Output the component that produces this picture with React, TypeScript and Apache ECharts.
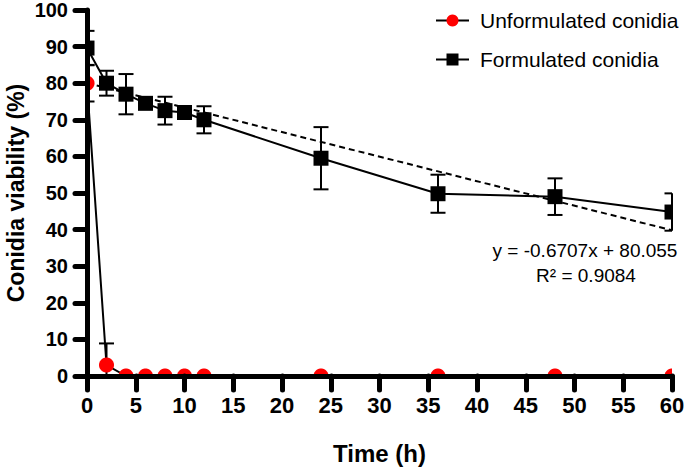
import React, { useEffect, useRef } from "react";
import * as echarts from "echarts";

// time points (h)
const hours = [0, 2, 4, 6, 8, 10, 12, 24, 36, 48, 60];

// viability (%) and error bars
const unformulated = [80, 3, 0, 0, 0, 0, 0, 0, 0, 0, 0];
const unformulatedErr = [5, 5.9, 0, 0, 0, 0, 0, 0, 0, 0, 0];
const formulated = [89.6, 80, 77, 74.5, 72.5, 72, 70, 59.5, 49.8, 49, 44.8];
const formulatedErr = [4.7, 3.4, 5.5, 1.2, 3.8, 1, 3.7, 8.5, 5.2, 5, 5.1];

// fitted trend line end points (y = -0.6707x + 80.055)
const trendX = [0, 60];
const trendY = [80.055, 39.813];

const FONT = "'Liberation Sans', Arial, sans-serif";

const pairs = (ys: number[]) => hours.map((h, i) => [h, ys[i]]);
const triples = (ys: number[], es: number[]) => hours.map((h, i) => [h, ys[i], es[i]]);

// clip a point list to the plot rectangle (good enough for convex marks)
const clampPts = (pts: number[][], r: any) =>
  pts.map(([x, y]) => [
    Math.min(Math.max(x, r.x), r.x + r.width),
    Math.min(Math.max(y, r.y), r.y + r.height),
  ]);

const markerSeries = (name: string, data: number[][], shape: "rect" | "circle", color: string) => ({
  name,
  type: "custom",
  z: 4,
  data,
  encode: { x: 0, y: 1 },
  renderItem: (params: any, api: any) => {
    const box = params.coordSys;
    const x = api.value(0);
    const y = api.value(1);
    const e = api.value(2);
    const c = api.coord([x, y]);
    const children: any[] = [];
    const st = { stroke: "#000", lineWidth: 2 };
    const hline = (yy: number) => {
      const x1 = Math.max(c[0] - 7.5, box.x);
      const x2 = Math.min(c[0] + 7.5, box.x + box.width);
      return { type: "line", shape: { x1, y1: yy, x2, y2: yy }, style: st };
    };
    if (e > 0) {
      const top = api.coord([x, y + e])[1];
      const bot = Math.min(api.coord([x, y - e])[1], box.y + box.height);
      children.push({ type: "line", shape: { x1: c[0], y1: top, x2: c[0], y2: bot }, style: st });
      children.push(hline(top));
      if (bot < box.y + box.height) children.push(hline(bot));
    }
    let pts: number[][];
    if (shape === "rect") {
      pts = [
        [c[0] - 7.5, c[1] - 7.5],
        [c[0] + 7.5, c[1] - 7.5],
        [c[0] + 7.5, c[1] + 7.5],
        [c[0] - 7.5, c[1] + 7.5],
      ];
    } else {
      pts = [];
      for (let k = 0; k < 48; k++) {
        const a = (k / 48) * Math.PI * 2;
        pts.push([c[0] + 7.5 * Math.cos(a), c[1] + 7.5 * Math.sin(a)]);
      }
    }
    children.push({ type: "polygon", shape: { points: clampPts(pts, box) }, style: { fill: color } });
    return { type: "group", children };
  },
});

const axisCommon = {
  axisLine: { show: true, lineStyle: { color: "#000", width: 5, cap: "round" } },
  axisTick: { show: true, lineStyle: { color: "#000", width: 5, cap: "round" } },
  splitLine: { show: false },
  nameLocation: "middle",
  nameMoveOverlap: false,
  nameTextStyle: { color: "#000", fontSize: 23, fontWeight: "bold", fontFamily: FONT },
  z: 5,
};

const App: React.FC = () => {
  const chartRef = useRef<HTMLDivElement>(null);

  useEffect(() => {
    if (!chartRef.current) return;
    const chart = echarts.init(chartRef.current, null, { renderer: "svg" });
    chart.setOption({
      animation: false,
      backgroundColor: "#fff",
      grid: { left: 87, right: 13, top: 10, bottom: 91, containLabel: false, outerBoundsMode: "none" },
      legend: {
        orient: "vertical",
        left: 430,
        top: 5,
        itemWidth: 33,
        itemHeight: 15,
        itemGap: 18,
        data: ["Unformulated conidia", "Formulated conidia"],
        textStyle: { color: "#000", fontSize: 21, fontFamily: FONT, padding: [0, 0, 0, 6] },
      },
      xAxis: {
        ...axisCommon,
        type: "value",
        min: 0,
        max: 60,
        interval: 5,
        name: "Time (h)",
        nameGap: 65,
        nameTextStyle: { ...axisCommon.nameTextStyle, fontSize: 24 },
        axisTick: { ...axisCommon.axisTick, length: 14 },
        axisLabel: { color: "#000", fontSize: 22, fontWeight: "bold", fontFamily: FONT, margin: 18 },
      },
      yAxis: {
        ...axisCommon,
        type: "value",
        min: 0,
        max: 100,
        interval: 10,
        name: "Conidia viability (%)",
        nameGap: 60,
        axisTick: { ...axisCommon.axisTick, length: 12 },
        axisLabel: { color: "#000", fontSize: 20, fontWeight: "bold", fontFamily: FONT, margin: 19 },
      },
      graphic: [
        {
          type: "text",
          x: 585,
          y: 250,
          style: {
            text: "y = -0.6707x + 80.055",
            align: "center",
            verticalAlign: "middle",
            fill: "#000",
            fontSize: 19,
            fontFamily: FONT,
          },
        },
        {
          type: "text",
          x: 586,
          y: 275,
          style: {
            text: "R² = 0.9084",
            align: "center",
            verticalAlign: "middle",
            fill: "#000",
            fontSize: 19,
            fontFamily: FONT,
          },
        },
      ],
      series: [
        // legend entries only
        {
          name: "Unformulated conidia",
          type: "line",
          data: [],
          symbol: "circle",
          symbolSize: 15,
          itemStyle: { color: "#ff0000" },
          lineStyle: { color: "#000", width: 2 },
        },
        {
          name: "Formulated conidia",
          type: "line",
          data: [],
          symbol: "rect",
          symbolSize: 15,
          itemStyle: { color: "#000" },
          lineStyle: { color: "#000", width: 2 },
        },
        {
          name: "trend",
          type: "line",
          data: trendX.map((x, i) => [x, trendY[i]]),
          symbol: "none",
          lineStyle: { color: "#000", width: 2, type: [6, 4] },
          z: 2,
        },
        {
          name: "Formulated conidia",
          type: "line",
          data: pairs(formulated),
          symbol: "none",
          lineStyle: { color: "#000", width: 2 },
          z: 3,
        },
        {
          name: "Unformulated conidia",
          type: "line",
          data: pairs(unformulated),
          symbol: "none",
          lineStyle: { color: "#000", width: 2 },
          z: 3,
        },
        markerSeries("formulatedMarks", triples(formulated, formulatedErr), "rect", "#000"),
        markerSeries("unformulatedMarks", triples(unformulated, unformulatedErr), "circle", "#ff0000"),
      ],
    });
    return () => chart.dispose();
  }, []);

  return (
    <div
      ref={chartRef}
      style={{ position: "absolute", left: 0, top: 0, width: 685, height: 467 }}
    />
  );
};

export default App;
